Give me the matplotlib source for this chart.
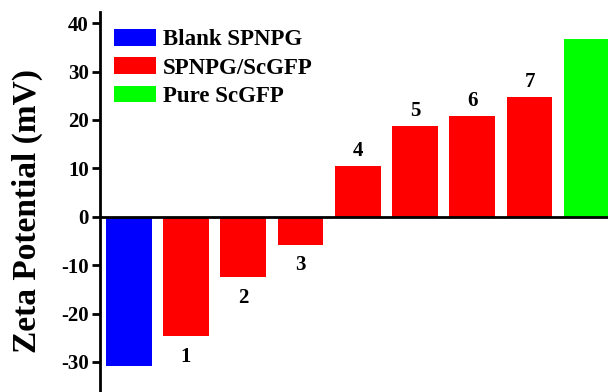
import matplotlib
matplotlib.use("Agg")
from matplotlib import pyplot as plt
from matplotlib.patches import Patch
import numpy as np

# zeta potential of each sample (mV)
groups = ["Blank SPNPG", "SPNPG/ScGFP", "Pure ScGFP"]
group_colors = ["#0000ff", "#ff0000", "#00ff00"]
sample_group = [0, 1, 1, 1, 1, 1, 1, 1, 2]
sample_labels = ["", "1", "2", "3", "4", "5", "6", "7", ""]
zeta = [-30.8, -24.7, -12.5, -5.8, 10.5, 18.7, 20.8, 24.8, 36.8]
yticks = [-30, -20, -10, 0, 10, 20, 30, 40]

plt.rcParams["font.family"] = ["Liberation Serif", "DejaVu Serif"]
plt.rcParams["font.weight"] = "bold"

fig = plt.figure(figsize=(6.08, 3.92), dpi=100)
ax = fig.add_axes([100 / 608, 0.0, 508 / 608, 1 - 12 / 392])

x = np.arange(len(zeta))
colors = [group_colors[g] for g in sample_group]
bars = ax.bar(x, zeta, width=0.8, color=colors, edgecolor="none", zorder=2)

# sample numbers below negative bars and above positive ones
for xi, v, lab in zip(x, zeta, sample_labels):
    if not lab:
        continue
    if v < 0:
        ax.text(xi, v - 2.2, lab, ha="center", va="top", fontsize=15, fontweight="bold")
    else:
        ax.text(xi, v + 1.0, lab, ha="center", va="bottom", fontsize=15, fontweight="bold")

ax.set_xlim(-0.5, 8.37)
ax.set_ylim(-36.2, 42.3)
ax.set_yticks(yticks)
ax.set_yticklabels([str(t) for t in yticks], fontsize=15, fontweight="bold")
ax.tick_params(axis="y", direction="out", length=6, width=2, pad=2)
ax.set_xticks([])

for side in ["top", "right"]:
    ax.spines[side].set_visible(False)
ax.spines["left"].set_linewidth(2)
ax.spines["bottom"].set_position(("data", 0))
ax.spines["bottom"].set_linewidth(2)
ax.spines["bottom"].set_zorder(3)

ax.set_ylabel("Zeta Potential (mV)", fontsize=24, fontweight="bold")
ax.yaxis.set_label_coords(-0.112, 0.476)

handles = [Patch(facecolor=c, edgecolor="none") for c in group_colors]
ax.legend(handles, groups, loc="upper left", bbox_to_anchor=(0.027, 0.955),
          frameon=False, prop={"weight": "bold", "size": 16.5},
          handlelength=1.85, handleheight=0.75, handletextpad=0.28,
          labelspacing=0.3, borderpad=0, borderaxespad=0)

plt.savefig("out.png", dpi=100)
plt.close()
